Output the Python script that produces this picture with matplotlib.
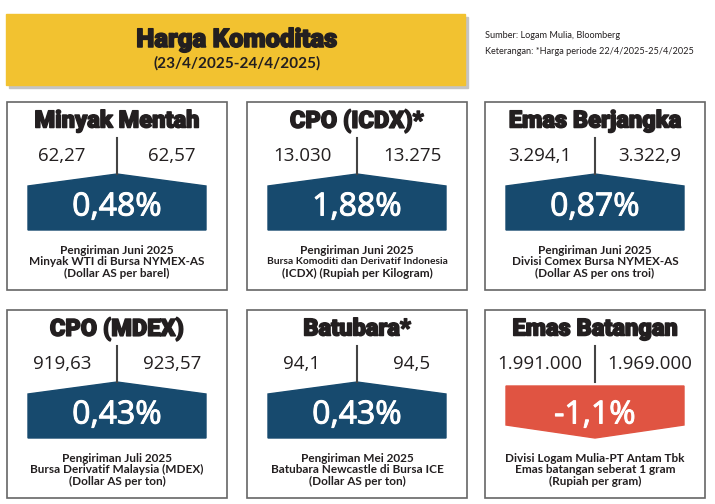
import matplotlib.pyplot as plt
import matplotlib.patheffects as pe
from matplotlib.patches import Rectangle, Polygon

names = ["Minyak Mentah", "CPO (ICDX)*", "Emas Berjangka",
         "CPO (MDEX)", "Batubara*", "Emas Batangan"]
price_before = ["62,27", "13.030", "3.294,1", "919,63", "94,1", "1.991.000"]
price_after = ["62,57", "13.275", "3.322,9", "923,57", "94,5", "1.969.000"]
changes = [0.48, 1.88, 0.87, 0.43, 0.43, -1.1]
change_labels = ["0,48%", "1,88%", "0,87%", "0,43%", "0,43%", "-1,1%"]
notes = [
    ["Pengiriman Juni 2025", "Minyak WTI di Bursa NYMEX-AS", "(Dollar AS per barel)"],
    ["Pengiriman Juni 2025", "Bursa Komoditi dan Derivatif Indonesia", "(ICDX) (Rupiah per Kilogram)"],
    ["Pengiriman Juni 2025", "Divisi Comex Bursa NYMEX-AS", "(Dollar AS per ons troi)"],
    ["Pengiriman Juli 2025", "Bursa Derivatif Malaysia (MDEX)", "(Dollar AS per ton)"],
    ["Pengiriman Mei 2025", "Batubara Newcastle di Bursa ICE", "(Dollar AS per ton)"],
    ["Divisi Logam Mulia-PT Antam Tbk", "Emas batangan seberat 1 gram", "(Rupiah per gram)"],
]

title = "Harga Komoditas"
subtitle = "(23/4/2025-24/4/2025)"
source = ["Sumber: Logam Mulia, Bloomberg",
          "Keterangan: *Harga periode 22/4/2025-25/4/2025"]

UP = "#174a6e"
DOWN = "#e05442"
YELLOW = "#f2c230"
INK = "#231f20"
HEAVY = ["Roboto", "DejaVu Sans"]
NARROW = ["Lato", "DejaVu Sans"]
DIGITS = ["Open Sans", "DejaVu Sans"]

fig = plt.figure(figsize=(7.15, 5.04), dpi=100)
ax = fig.add_axes([0, 0, 1, 1])
ax.set_xlim(0, 715)
ax.set_ylim(504, 0)
ax.axis("off")
renderer = fig.canvas.get_renderer()

bold_ink = [pe.withStroke(linewidth=1.1, foreground=INK)]
bold_white = [pe.withStroke(linewidth=0.7, foreground="white")]

# header box with a soft shadow
ax.add_patch(Rectangle((9, 17), 459, 71, color="#c4c4c4", zorder=1))
ax.add_patch(Rectangle((6, 14), 459, 71, color=YELLOW, zorder=2))
ax.text(237, 40, title, ha="center", va="center", fontsize=18.5,
        fontweight="black", family=HEAVY, color=INK, zorder=3,
        path_effects=bold_ink)
ax.text(237, 63, subtitle, ha="center", va="center", fontsize=11,
        fontweight="bold", family=NARROW, color=INK, zorder=3)
ax.text(485, 35, source[0], ha="left", va="center", fontsize=6.6,
        family=NARROW, color=INK)
ax.text(485, 51, source[1], ha="left", va="center", fontsize=6.6,
        family=NARROW, color=INK)

col_left = [7, 247, 485]
row_top = [102, 310]
box_w, box_h = 220, 188
half = 89
note_size = 8.5
max_note_w = 180

for i, name in enumerate(names):
    left = col_left[i % 3]
    top = row_top[i // 3]
    cx = left + box_w / 2

    ax.add_patch(Rectangle((left, top), box_w, box_h, fill=False,
                           edgecolor="#666666", lw=1.2))
    ax.text(cx, top + 19, name, ha="center", va="center", fontsize=17,
            fontweight="black", family=HEAVY, color=INK, path_effects=bold_ink)

    ax.text(cx - 55, top + 54, price_before[i], ha="center", va="center",
            fontsize=13.5, family=DIGITS, color=INK)
    ax.text(cx + 55, top + 54, price_after[i], ha="center", va="center",
            fontsize=13.5, family=DIGITS, color=INK)
    ax.plot([cx, cx], [top + 36, top + 72], color="#444444", lw=1.5)

    if changes[i] >= 0:
        pts = [(cx - half, top + 84), (cx, top + 72), (cx + half, top + 84),
               (cx + half, top + 128), (cx - half, top + 128)]
        color = UP
    else:
        pts = [(cx - half, top + 76), (cx + half, top + 76), (cx + half, top + 115),
               (cx, top + 128), (cx - half, top + 115)]
        color = DOWN
    ax.add_patch(Polygon(pts, closed=True, color=color))
    ax.text(cx, top + 105, change_labels[i], ha="center", va="center",
            fontsize=23, family=DIGITS, color="white", path_effects=bold_white)

    for k, line in enumerate(notes[i]):
        t = ax.text(cx, top + 148 + 11.5 * k, line, ha="center", va="center",
                    fontsize=note_size, fontweight="bold", family=NARROW, color=INK)
        # squeeze long lines so they stay inside the panel like the original
        w = t.get_window_extent(renderer).width
        if w > max_note_w:
            t.set_fontsize(note_size * max_note_w / w)

fig.savefig("out.png", dpi=100)
